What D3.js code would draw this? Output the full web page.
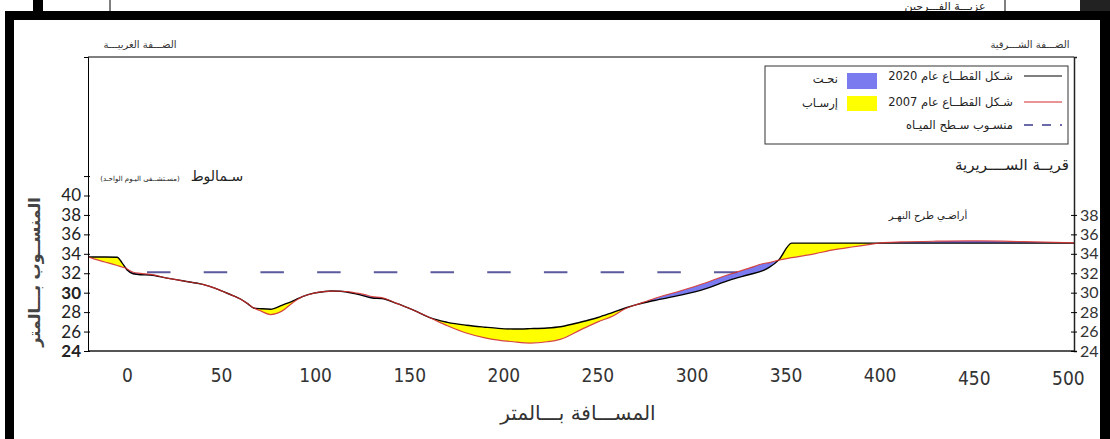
<!DOCTYPE html>
<html>
<head>
<meta charset="utf-8">
<script src="https://cdn.jsdelivr.net/npm/d3@7"></script>
<style>
  body { margin: 0; background: #fff; }
  svg { display: block; }
  .ar { font-family: "DejaVu Sans", sans-serif; direction: rtl; }
</style>
</head>
<body>
<div id="chart"></div>
<script>
// distance along the cross-section (m)
const distances = [-21, -18, -12, -5.5, -3, -1, 0, 3, 7, 12, 21, 30, 40, 46, 51, 56, 60, 64, 67, 71, 76, 82, 88, 93, 99, 104, 108, 113, 117, 122, 126, 130, 135, 143, 152, 161, 170, 180, 190, 197, 205, 214, 223, 230, 241, 250, 258, 265, 271, 280, 294, 307, 320, 330, 338, 341, 346, 353, 365, 375, 385, 393, 400, 411, 430, 446, 465, 482, 503];
// bed level 2020 (black)
const elev2020 = [33.67, 33.67, 33.67, 33.65, 33.1, 32.55, 32.3, 31.95, 31.85, 31.82, 31.5, 31.2, 30.85, 30.5, 30.1, 29.7, 29.35, 28.85, 28.42, 28.35, 28.3, 28.7, 29.15, 29.6, 29.95, 30.1, 30.17, 30.15, 30.05, 29.85, 29.65, 29.45, 29.4, 28.9, 28.2, 27.4, 26.95, 26.65, 26.45, 26.33, 26.26, 26.3, 26.37, 26.5, 26.98, 27.45, 27.98, 28.45, 28.8, 29.2, 29.75, 30.4, 31.3, 31.85, 32.3, 32.6, 33.35, 35.1, 35.1, 35.1, 35.1, 35.1, 35.1, 35.1, 35.1, 35.1, 35.1, 35.1, 35.1];
// bed level 2007 (red)
const elev2007 = [33.67, 33.48, 33.16, 32.8, 32.64, 32.54, 32.4, 32.1, 31.98, 31.88, 31.5, 31.2, 30.85, 30.5, 30.1, 29.7, 29.35, 28.85, 28.45, 28.1, 27.75, 28.1, 29.0, 29.6, 29.95, 30.1, 30.17, 30.15, 30.1, 29.95, 29.8, 29.6, 29.5, 28.9, 28.2, 27.4, 26.6, 25.85, 25.35, 25.12, 24.95, 24.82, 24.95, 25.2, 26.2, 27.0, 27.6, 28.4, 28.8, 29.4, 30.2, 31.0, 31.9, 32.5, 33.0, 33.1, 33.35, 33.6, 34.0, 34.4, 34.7, 34.92, 35.12, 35.22, 35.3, 35.33, 35.3, 35.22, 35.12];

const waterLevel = 32.1;
const waterExtent = [0, 338];

const xTicks = [0, 50, 100, 150, 200, 250, 300, 350, 400, 450, 500];
const leftTicks = [24, 26, 28, 30, 32, 34, 36, 38, 40, 42];
const leftLabels = [24, 26, 28, 30, 32, 34, 36, 38, 40];
const rightTicks = [24, 26, 28, 30, 32, 34, 36, 38];

const legendRows = ['شـكل القطــاع عام 2020', 'شـكل القطــاع عام 2007', 'منسـوب سـطح الميـاه'];
const legendFills = ['نحـت', 'إرسـاب'];

const W = 1110, H = 439;
const svg = d3.select('#chart').append('svg').attr('width', W).attr('height', H);

const x = d3.scaleLinear().domain([-21, 503]).range([88, 1074]);
const y = d3.scaleLinear().domain([24, 54.25]).range([351, 57]);

// scanned page frame
svg.append('line').attr('x1', 110).attr('x2', 110).attr('y1', 0).attr('y2', 11).attr('stroke', '#000');
svg.append('line').attr('x1', 1005).attr('x2', 1005).attr('y1', 0).attr('y2', 11).attr('stroke', '#000');
svg.append('text').attr('class', 'ar').attr('x', 945).attr('y', 10)
    .attr('text-anchor', 'middle').style('font-size', '11px').attr('fill', '#222')
    .text('عزبـــة الفـــرحين');
svg.append('rect').attr('x', 5).attr('y', 11).attr('width', 1105).attr('height', 9).attr('fill', '#000');
svg.append('rect').attr('x', 5).attr('y', 11).attr('width', 9).attr('height', 428).attr('fill', '#000');
svg.append('rect').attr('x', 1100).attr('y', 11).attr('width', 10).attr('height', 428).attr('fill', '#000');
svg.append('rect').attr('x', 33).attr('y', 0).attr('width', 10).attr('height', 11).attr('fill', '#000');
svg.append('rect').attr('x', 1080).attr('y', 0).attr('width', 30).attr('height', 11).attr('fill', '#222');

const pts = distances.map((d, i) => ({d: d, a: elev2020[i], b: elev2007[i]}));
const curve = d3.curveMonotoneX;

const defs = svg.append('defs');
defs.append('clipPath').attr('id', 'above').append('path')
    .attr('d', d3.area().curve(curve).x(p => x(p.d)).y0(y.range()[1]).y1(p => y(p.b))(pts));
defs.append('clipPath').attr('id', 'below').append('path')
    .attr('d', d3.area().curve(curve).x(p => x(p.d)).y0(y.range()[0]).y1(p => y(p.b))(pts));

const between = d3.area().curve(curve).x(p => x(p.d)).y0(p => y(p.b)).y1(p => y(p.a));

// deposition (2020 above 2007)
svg.append('path').attr('d', between(pts)).attr('fill', '#ffff00').attr('clip-path', 'url(#above)');
// erosion (2020 below 2007)
svg.append('path').attr('d', between(pts)).attr('fill', '#7b7bf0').attr('clip-path', 'url(#below)');

// water surface
svg.append('path')
    .attr('d', d3.line()([[x(waterExtent[0]), y(waterLevel)], [x(waterExtent[1]), y(waterLevel)]]))
    .attr('stroke', '#5a5a9c').attr('stroke-width', 2)
    .attr('stroke-dasharray', '23.5,33.2').attr('stroke-dashoffset', 37.2);

const line2020 = d3.line().curve(curve).x(p => x(p.d)).y(p => y(p.a));
const line2007 = d3.line().curve(curve).x(p => x(p.d)).y(p => y(p.b));
svg.append('path').attr('d', line2020(pts)).attr('fill', 'none').attr('stroke', '#000').attr('stroke-width', 1.4);
svg.append('path').attr('d', line2007(pts)).attr('fill', 'none').attr('stroke', '#d42a2a').attr('stroke-width', 1.2).attr('stroke-opacity', 0.85);

// plot frame
svg.append('line').attr('x1', 88).attr('x2', 1074).attr('y1', 57).attr('y2', 57).attr('stroke', '#000');
svg.append('line').attr('x1', 88).attr('x2', 1074).attr('y1', 351).attr('y2', 351).attr('stroke', '#555').attr('stroke-width', 2);

// left axis
const yAxisL = svg.append('g').attr('transform', 'translate(88,0)')
    .call(d3.axisLeft(y).tickValues(leftTicks).tickSize(4).tickPadding(3)
        .tickFormat(d => leftLabels.includes(d) ? d : ''));
yAxisL.select('.domain').attr('stroke', '#000');
yAxisL.selectAll('.tick line').attr('x2', -4).attr('x1', 2);
yAxisL.selectAll('text').style('font-family', 'Lato, "Open Sans", sans-serif').style('font-size', '17px')
    .attr('fill', '#222').style('font-weight', d => (d === 30 || d === 24) ? 'bold' : 'normal');

// right axis
const yAxisR = svg.append('g').attr('transform', 'translate(1074,0)')
    .call(d3.axisRight(y).tickValues(rightTicks).tickSize(3).tickPadding(3));
yAxisR.select('.domain').attr('stroke', '#222').attr('stroke-width', 1.5);
yAxisR.selectAll('.tick line').attr('x1', -3);
yAxisR.selectAll('text').style('font-family', 'Lato, "Open Sans", sans-serif').style('font-size', '16px')
    .attr('fill', '#333');

// x tick labels (no tick marks)
svg.append('g').selectAll('text').data(xTicks).join('text')
    .attr('x', d => x(d)).attr('y', d => d >= 450 ? 385 : 382)
    .attr('text-anchor', 'middle')
    .style('font-family', '"Liberation Sans Narrow", "DejaVu Sans Condensed", sans-serif')
    .style('font-stretch', 'condensed')
    .style('font-size', '19px').attr('fill', '#333')
    .text(d => d);

// titles
svg.append('text').attr('class', 'ar').attr('x', 578).attr('y', 420).attr('text-anchor', 'middle')
    .style('font-size', '20px').attr('fill', '#333').text('المســـافة بـــالمتر');
svg.append('text').attr('class', 'ar').attr('transform', 'translate(40,272) rotate(-90)')
    .attr('text-anchor', 'middle').style('font-size', '16px').style('font-weight', 'bold')
    .attr('fill', '#444').text('المنســوب بـــالمتر');

svg.append('text').attr('class', 'ar').attr('x', 140).attr('y', 48).attr('text-anchor', 'middle')
    .style('font-size', '10px').attr('fill', '#333').text('الضـــفة الغربيـــة');
svg.append('text').attr('class', 'ar').attr('x', 1030).attr('y', 48).attr('text-anchor', 'middle')
    .style('font-size', '10px').attr('fill', '#333').text('الضـــفة الشـــرقية');

svg.append('text').attr('class', 'ar').attr('x', 217).attr('y', 181).attr('text-anchor', 'middle')
    .style('font-size', '14px').attr('fill', '#222').text('سـمالوط');
svg.append('text').attr('class', 'ar').attr('x', 140).attr('y', 181).attr('text-anchor', 'middle')
    .style('font-size', '7px').attr('fill', '#222').text('(مسـتشــفى اليـوم الواحـد)');
svg.append('text').attr('class', 'ar').attr('x', 1012).attr('y', 170).attr('text-anchor', 'middle')
    .style('font-size', '15px').attr('fill', '#222').text('قريــة الســــريرية');
svg.append('text').attr('class', 'ar').attr('x', 928).attr('y', 219).attr('text-anchor', 'middle')
    .style('font-size', '10px').attr('fill', '#222').text('أراضـي طرح النهـر');

// legend
const lg = svg.append('g');
lg.append('rect').attr('x', 765).attr('y', 66).attr('width', 303).attr('height', 78)
    .attr('fill', '#fff').attr('stroke', '#333');
const rowY = [76, 102, 125];
lg.selectAll('text.row').data(legendRows).join('text').attr('class', 'row ar')
    .attr('x', 1013).attr('y', (d, i) => rowY[i] + 4).attr('text-anchor', 'start')
    .style('font-size', '11.5px').attr('fill', '#222').text(d => d);
lg.append('line').attr('x1', 1024).attr('x2', 1062).attr('y1', rowY[0]).attr('y2', rowY[0]).attr('stroke', '#000');
lg.append('line').attr('x1', 1024).attr('x2', 1062).attr('y1', rowY[1]).attr('y2', rowY[1]).attr('stroke', '#d42a2a');
lg.append('line').attr('x1', 1024).attr('x2', 1062).attr('y1', rowY[2]).attr('y2', rowY[2])
    .attr('stroke', '#3a3a8c').attr('stroke-width', 1.5).attr('stroke-dasharray', '9,9');
lg.append('rect').attr('x', 847).attr('y', 73).attr('width', 30).attr('height', 16).attr('fill', '#7b7bf0');
lg.append('rect').attr('x', 847).attr('y', 96).attr('width', 30).attr('height', 15).attr('fill', '#ffff00');
lg.selectAll('text.fill').data(legendFills).join('text').attr('class', 'fill ar')
    .attr('x', 838).attr('y', (d, i) => i ? 107 : 83).attr('text-anchor', 'start')
    .style('font-size', '11.5px').attr('fill', '#222').text(d => d);
</script>
</body>
</html>
